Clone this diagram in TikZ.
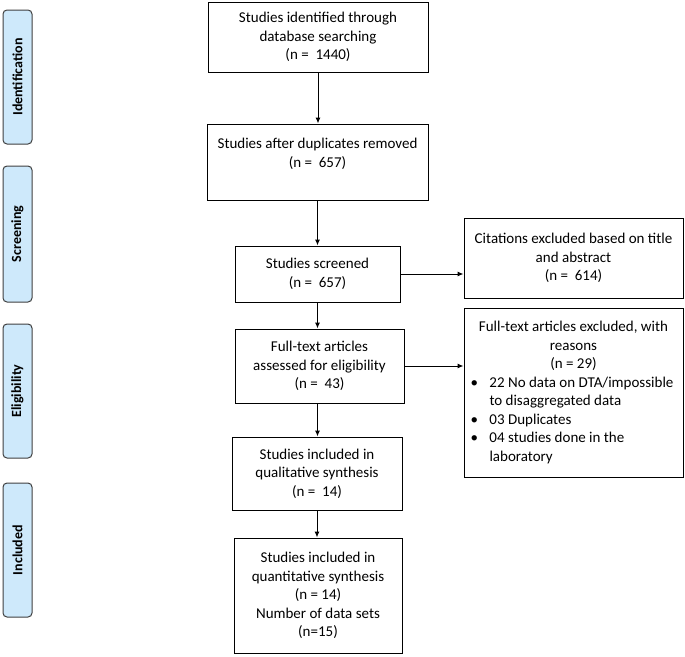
\documentclass[tikz,border=0pt]{standalone}
\usepackage{fontspec}
\setmainfont{Carlito}
\usetikzlibrary{arrows.meta}
\begin{document}
\begin{tikzpicture}[x=1pt,y=-1pt,
  box/.style={draw=black, line width=1pt, fill=white, align=center, inner sep=4pt,
    font=\fontsize{15}{18.5}\selectfont},
  phase/.style={draw=black!75, line width=1pt, fill=phaseblue, rounded corners=4pt,
    rotate=90, minimum height=29pt, minimum width=134pt, inner sep=0pt,
    font=\fontsize{14}{16}\selectfont\bfseries},
  arr/.style={line width=1pt, -{Latex[length=6pt,width=5pt]}}]
\definecolor{phaseblue}{RGB}{206,233,251}
\useasboundingbox (0,0) rectangle (685,656);

% phase labels
\node[phase] (pid) at (17.5,77) {Identification};
\node[phase, minimum width=136pt] (psc) at (17.5,234) {Screening};
\node[phase] (pel) at (17.5,391) {Eligibility};
\node[phase] (pin) at (17.5,550) {Included};

% main column
\node[box, minimum width=220pt, minimum height=70pt] (b1) at (318,37)
  {Studies identified through\\database searching\\(n =\ \ 1440)};
\node[box, minimum width=221pt, minimum height=76pt] (b2) at (317.5,162)
  {Studies after duplicates removed\\(n =\ \ 657)\\\mbox{}};
\node[box, minimum width=165pt, minimum height=56pt] (b3) at (317.5,274)
  {Studies screened\\(n =\ \ 657)};
\node[box, minimum width=169pt, minimum height=74pt] (b4) at (319.5,366)
  {Full-text articles\\assessed for eligibility\\(n =\ \ 43)};
\node[box, minimum width=170pt, minimum height=73pt] (b5) at (317,473.5)
  {Studies included in\\qualitative synthesis\\(n =\ \ 14)};
\node[box, minimum width=168pt, minimum height=115pt] (b6) at (318,595.5)
  {Studies included in\\quantitative synthesis\\(n = 14)\\Number of data sets\\(n=15)};

% exclusion column
\node[box, minimum width=219pt, minimum height=80pt] (e1) at (573.5,258)
  {Citations excluded based on title\\and abstract\\(n =\ \ 614)};
\node[box, minimum width=219pt, minimum height=169pt, align=left] (e2) at (573.5,392.5)
  {\begin{minipage}{208pt}\fontsize{15}{18.5}\selectfont
   \centering Full-text articles excluded, with\\reasons\\(n = 29)\par
   \raggedright
   \makebox[20pt][l]{\hspace{1pt}\textbullet}22 No data on DTA/impossible\\
   \hspace*{20pt}to disaggregated data\\
   \makebox[20pt][l]{\hspace{1pt}\textbullet}03 Duplicates\\
   \makebox[20pt][l]{\hspace{1pt}\textbullet}04 studies done in the\\
   \hspace*{20pt}laboratory
   \end{minipage}};

% connectors
\draw[arr] (b1.south) -- (b1.south |- b2.north);
\draw[arr] (b2.south) -- (b2.south |- b3.north);
\draw[arr] (b3.south) -- (b3.south |- b4.north);
\draw[arr] (b4.south) -- (b4.south -| b3.south) -- (b3.south |- b5.north);
\draw[arr] (b5.south) -- (b5.south |- b6.north);
\draw[arr] (b3.east) -- (b3.east -| e1.west);
\draw[arr] (b4.east) -- (b4.east -| e2.west);
\end{tikzpicture}
\end{document}
